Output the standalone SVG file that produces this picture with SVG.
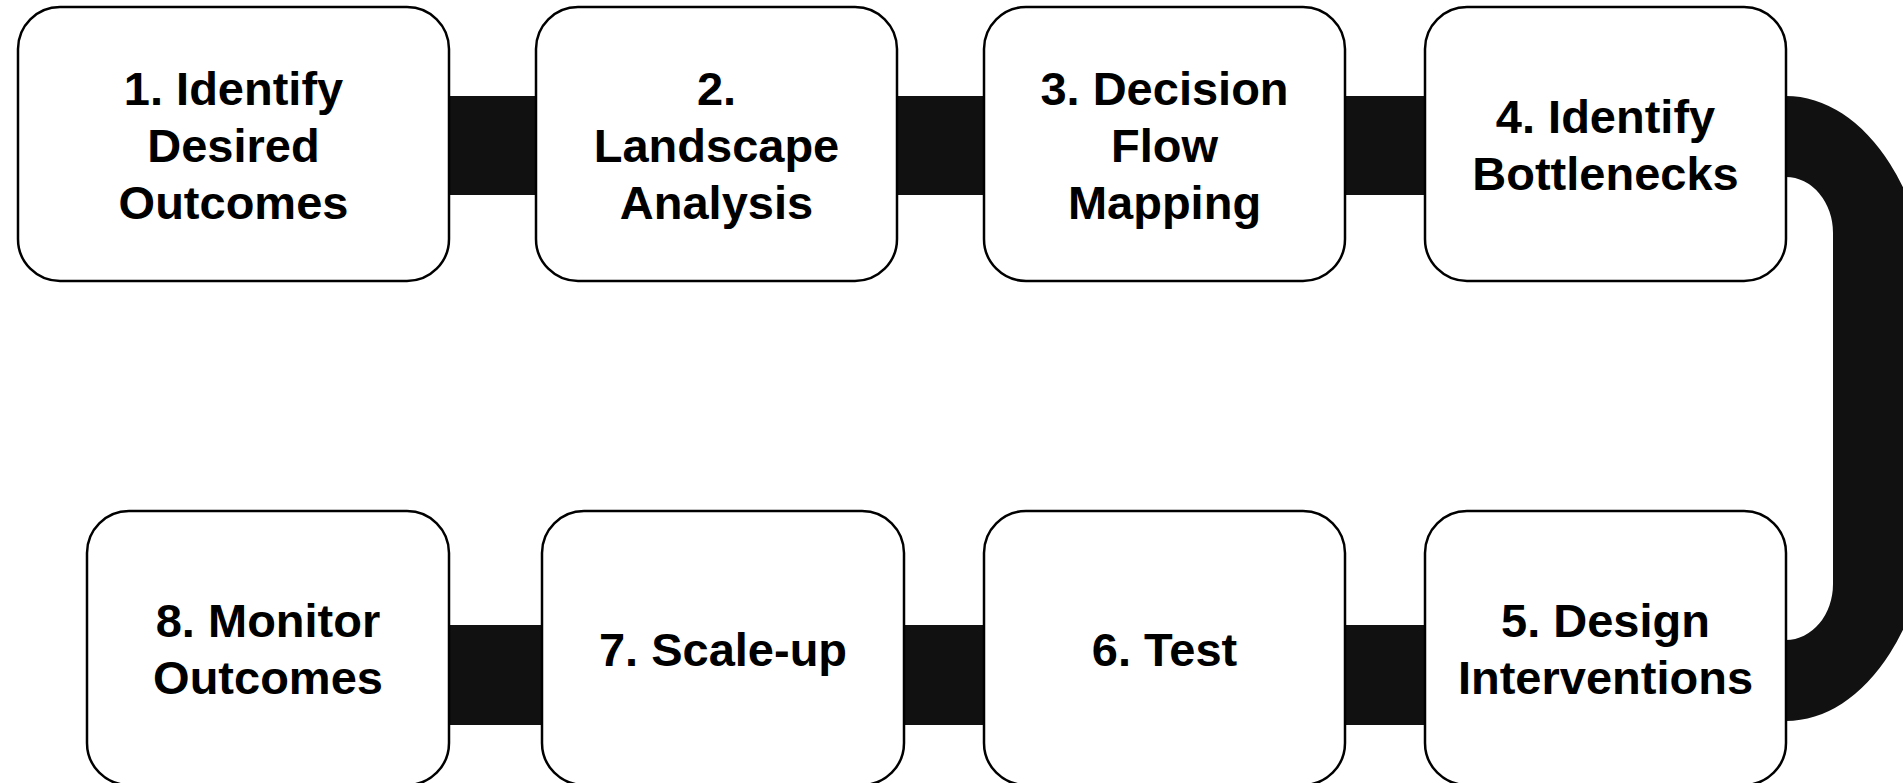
<svg xmlns="http://www.w3.org/2000/svg" width="1903" height="783" viewBox="0 0 1903 783">
<style>
.box{fill:#ffffff;stroke:#000000;stroke-width:2.5}
.lbl{font-family:"Liberation Sans",Arial,sans-serif;font-weight:bold;font-size:47px;fill:#000000;text-anchor:middle}
.con{fill:#111111;stroke:none}
</style>
<rect width="1903" height="783" fill="#ffffff"/>
<g id="connectors">
<rect class="con" x="440" y="96" width="105" height="99"/>
<rect class="con" x="890" y="96" width="100" height="99"/>
<rect class="con" x="1338" y="96" width="94" height="99"/>
<path class="con" d="M1770,96 L1786,96 A147,231 0 0 1 1933,327 L1933,490 A147,231 0 0 1 1786,721 L1770,721 L1770,640 L1786,640 A47,56 0 0 0 1833,584 L1833,233 A47,56 0 0 0 1786,177 L1770,177 Z"/>
<rect class="con" x="440" y="625" width="110" height="100"/>
<rect class="con" x="896" y="625" width="95" height="100"/>
<rect class="con" x="1338" y="625" width="94" height="100"/>
</g>
<g id="node1">
<rect class="box" x="18" y="7" width="431" height="274" rx="42"/>
<text class="lbl" x="233.5" y="105">1. Identify</text>
<text class="lbl" x="233.5" y="162">Desired</text>
<text class="lbl" x="233.5" y="219">Outcomes</text>
</g>
<g id="node2">
<rect class="box" x="536" y="7" width="361" height="274" rx="42"/>
<text class="lbl" x="716.5" y="105">2.</text>
<text class="lbl" x="716.5" y="162">Landscape</text>
<text class="lbl" x="716.5" y="219">Analysis</text>
</g>
<g id="node3">
<rect class="box" x="984" y="7" width="361" height="274" rx="42"/>
<text class="lbl" x="1164.5" y="105">3. Decision</text>
<text class="lbl" x="1164.5" y="162">Flow</text>
<text class="lbl" x="1164.5" y="219">Mapping</text>
</g>
<g id="node4">
<rect class="box" x="1425" y="7" width="361" height="274" rx="42"/>
<text class="lbl" x="1605.5" y="133">4. Identify</text>
<text class="lbl" x="1605.5" y="190">Bottlenecks</text>
</g>
<g id="node5">
<rect class="box" x="1425" y="511" width="361" height="274" rx="42"/>
<text class="lbl" x="1605.5" y="637">5. Design</text>
<text class="lbl" x="1605.5" y="694">Interventions</text>
</g>
<g id="node6">
<rect class="box" x="984" y="511" width="361" height="274" rx="42"/>
<text class="lbl" x="1164.5" y="666">6. Test</text>
</g>
<g id="node7">
<rect class="box" x="542" y="511" width="362" height="274" rx="42"/>
<text class="lbl" x="723" y="666">7. Scale-up</text>
</g>
<g id="node8">
<rect class="box" x="87" y="511" width="362" height="274" rx="42"/>
<text class="lbl" x="268" y="637">8. Monitor</text>
<text class="lbl" x="268" y="694">Outcomes</text>
</g>
</svg>
